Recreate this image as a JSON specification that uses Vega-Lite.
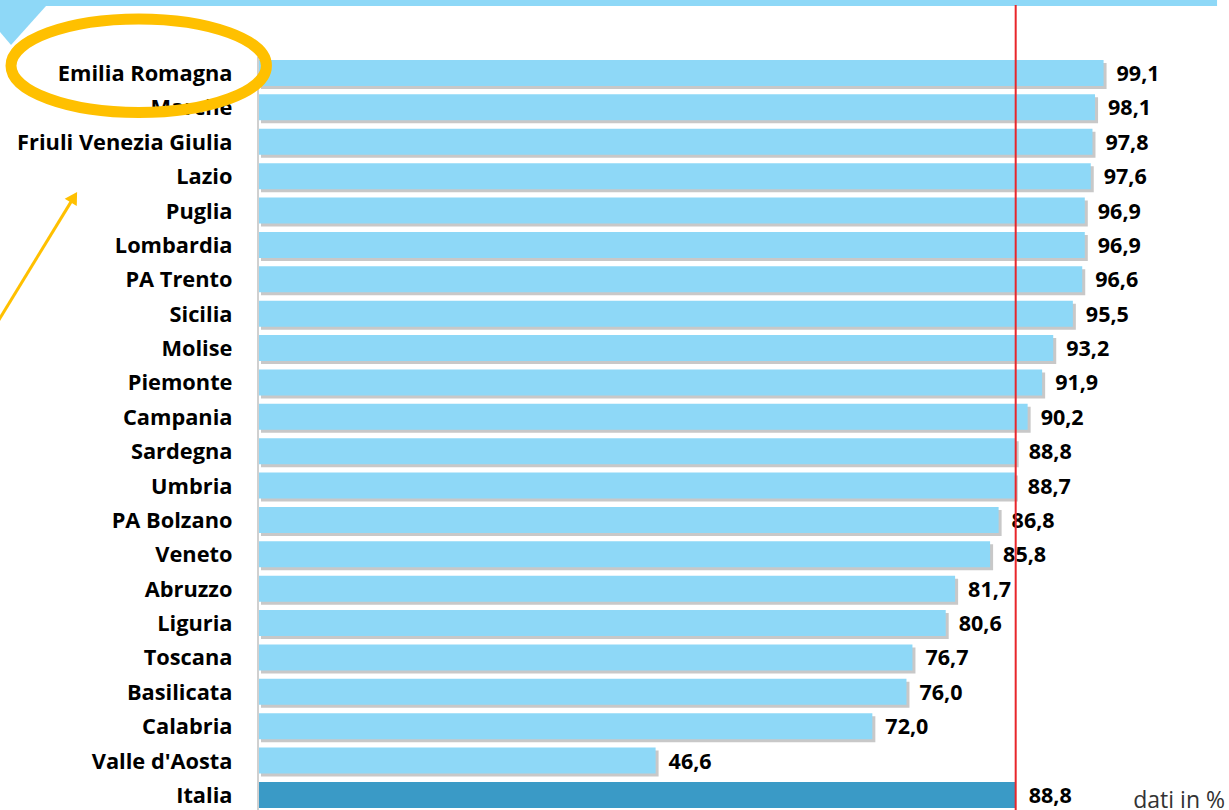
{
  "$schema": "https://vega.github.io/schema/vega-lite/v6.json",
  "width": 971,
  "height": 810,
  "autosize": {"type": "none"},
  "padding": {"left": 258, "top": 0, "right": 0, "bottom": 0},
  "background": "white",
  "config": {
    "view": {"stroke": null},
    "font": "Open Sans",
    "locale": {"number": {"decimal": ",", "thousands": ".", "grouping": [3], "currency": ["€", ""]}}
  },
  "datasets": {
    "regions": [
      {"region": "Emilia Romagna", "value": 99.1},
      {"region": "Marche", "value": 98.1},
      {"region": "Friuli Venezia Giulia", "value": 97.8},
      {"region": "Lazio", "value": 97.6},
      {"region": "Puglia", "value": 96.9},
      {"region": "Lombardia", "value": 96.9},
      {"region": "PA Trento", "value": 96.6},
      {"region": "Sicilia", "value": 95.5},
      {"region": "Molise", "value": 93.2},
      {"region": "Piemonte", "value": 91.9},
      {"region": "Campania", "value": 90.2},
      {"region": "Sardegna", "value": 88.8},
      {"region": "Umbria", "value": 88.7},
      {"region": "PA Bolzano", "value": 86.8},
      {"region": "Veneto", "value": 85.8},
      {"region": "Abruzzo", "value": 81.7},
      {"region": "Liguria", "value": 80.6},
      {"region": "Toscana", "value": 76.7},
      {"region": "Basilicata", "value": 76.0},
      {"region": "Calabria", "value": 72.0},
      {"region": "Valle d'Aosta", "value": 46.6},
      {"region": "Italia", "value": 88.8}
    ]
  },
  "layer": [
    {
      "data": {"name": "regions"},
      "encoding": {
        "y": {
          "field": "region",
          "type": "nominal",
          "sort": null,
          "scale": {
            "domain": ["Emilia Romagna", "Marche", "Friuli Venezia Giulia", "Lazio", "Puglia", "Lombardia", "PA Trento", "Sicilia", "Molise", "Piemonte", "Campania", "Sardegna", "Umbria", "PA Bolzano", "Veneto", "Abruzzo", "Liguria", "Toscana", "Basilicata", "Calabria", "Valle d'Aosta", "Italia"],
            "paddingInner": 0.2438,
            "paddingOuter": 0.9019,
            "align": 0.9674
          },
          "axis": {
            "title": null,
            "domain": false,
            "ticks": false,
            "labelPadding": 26,
            "labelFont": "Open Sans",
            "labelFontWeight": "bold",
            "labelFontSize": 21.8,
            "labelColor": "#000000",
            "labelLimit": 400,
            "labelOffset": 1,
            "zindex": 0
          }
        },
        "x": {
          "field": "value",
          "type": "quantitative",
          "scale": {"domain": [0, 113.8], "nice": false, "zero": false},
          "axis": null
        }
      },
      "layer": [
        {
          "mark": {"type": "bar", "xOffset": 3, "x2Offset": 3, "yOffset": 3, "y2Offset": 3, "opacity": 0.55},
          "encoding": {
            "color": {"condition": {"test": "datum.region === 'Italia'", "value": "transparent"}, "value": "#9a9a9a"}
          }
        },
        {
          "mark": {"type": "bar"},
          "encoding": {
            "color": {"condition": {"test": "datum.region === 'Italia'", "value": "#3A9AC6"}, "value": "#8ED8F7"}
          }
        },
        {
          "mark": {"type": "text", "align": "left", "baseline": "middle", "dx": 13, "dy": 2, "font": "Open Sans", "fontWeight": "bold", "fontSize": 21.5, "color": "#000000"},
          "encoding": {
            "text": {"field": "value", "type": "quantitative", "format": ".1f"}
          }
        }
      ]
    },
    {
      "data": {"values": [{"x1": -30.24, "x2": 112.4, "r1": -2.123, "r2": -1.949}]},
      "mark": {"type": "rect", "color": "#8ED8F7"},
      "encoding": {
        "x": {"field": "x1", "type": "quantitative", "scale": {"domain": [0, 113.8], "nice": false, "zero": false}, "axis": null},
        "x2": {"field": "x2"},
        "y": {"field": "r1", "type": "quantitative", "scale": {"domain": [-2.123, 21.437], "reverse": true, "nice": false, "zero": false}, "axis": null},
        "y2": {"field": "r2"}
      }
    },
    {
      "data": {"values": [{"x": -30.236, "r": -1.949}]},
      "mark": {"type": "point", "shape": "M 0 0 L 46 0 L 11 39 L 0 26 Z", "size": 4, "filled": true, "color": "#8ED8F7", "opacity": 1, "strokeWidth": 0},
      "encoding": {
        "x": {"field": "x", "type": "quantitative", "scale": {"domain": [0, 113.8], "nice": false, "zero": false}, "axis": null},
        "y": {"field": "r", "type": "quantitative", "scale": {"domain": [-2.123, 21.437], "reverse": true, "nice": false, "zero": false}, "axis": null}
      }
    },
    {
      "data": {"values": [{"x": 0, "r1": -0.465, "r2": 21.437}]},
      "mark": {"type": "rule", "color": "#d0d0d0", "strokeWidth": 2},
      "encoding": {
        "x": {"field": "x", "type": "quantitative", "scale": {"domain": [0, 113.8], "nice": false, "zero": false}, "axis": null},
        "y": {"field": "r1", "type": "quantitative", "scale": {"domain": [-2.123, 21.437], "reverse": true, "nice": false, "zero": false}, "axis": null},
        "y2": {"field": "r2"}
      }
    },
    {
      "data": {"values": [{"x": 88.8, "r1": -1.978, "r2": 21.437}]},
      "mark": {"type": "rule", "color": "#E8262B", "strokeWidth": 2},
      "encoding": {
        "x": {"field": "x", "type": "quantitative", "scale": {"domain": [0, 113.8], "nice": false, "zero": false}, "axis": null},
        "y": {"field": "r1", "type": "quantitative", "scale": {"domain": [-2.123, 21.437], "reverse": true, "nice": false, "zero": false}, "axis": null},
        "y2": {"field": "r2"}
      }
    },
    {
      "data": {"values": [{"x": -13.98, "r": -0.212}]},
      "mark": {"type": "point", "shape": "M -1 0 C -1 -0.202 -0.552 -0.366 0 -0.366 C 0.552 -0.366 1 -0.202 1 0 C 1 0.202 0.552 0.366 0 0.366 C -0.552 0.366 -1 0.202 -1 0 Z", "size": 65229, "filled": false, "stroke": "#FFC000", "strokeWidth": 11, "opacity": 1},
      "encoding": {
        "x": {"field": "x", "type": "quantitative", "scale": {"domain": [0, 113.8], "nice": false, "zero": false}, "axis": null},
        "y": {"field": "r", "type": "quantitative", "scale": {"domain": [-2.123, 21.437], "reverse": true, "nice": false, "zero": false}, "axis": null}
      }
    },
    {
      "data": {"values": [{"x": -30.82, "r": 7.365, "o": 1}, {"x": -21.575, "r": 3.61, "o": 2}]},
      "mark": {"type": "line", "color": "#FFC000", "strokeWidth": 3},
      "encoding": {
        "x": {"field": "x", "type": "quantitative", "scale": {"domain": [0, 113.8], "nice": false, "zero": false}, "axis": null},
        "y": {"field": "r", "type": "quantitative", "scale": {"domain": [-2.123, 21.437], "reverse": true, "nice": false, "zero": false}, "axis": null},
        "order": {"field": "o", "type": "quantitative"}
      }
    },
    {
      "data": {"values": [{"x": -21.575, "r": 3.61}]},
      "mark": {"type": "point", "shape": "triangle-up", "size": 200, "angle": 31.4, "filled": true, "color": "#FFC000", "opacity": 1},
      "encoding": {
        "x": {"field": "x", "type": "quantitative", "scale": {"domain": [0, 113.8], "nice": false, "zero": false}, "axis": null},
        "y": {"field": "r", "type": "quantitative", "scale": {"domain": [-2.123, 21.437], "reverse": true, "nice": false, "zero": false}, "axis": null}
      }
    },
    {
      "data": {"values": [{"x": 113.33, "r": 21.17, "t": "dati in %"}]},
      "mark": {"type": "text", "align": "right", "baseline": "middle", "font": "Open Sans", "fontSize": 23, "color": "#333333"},
      "encoding": {
        "x": {"field": "x", "type": "quantitative", "scale": {"domain": [0, 113.8], "nice": false, "zero": false}, "axis": null},
        "y": {"field": "r", "type": "quantitative", "scale": {"domain": [-2.123, 21.437], "reverse": true, "nice": false, "zero": false}, "axis": null},
        "text": {"field": "t"}
      }
    }
  ],
  "resolve": {"scale": {"y": "independent"}}
}
